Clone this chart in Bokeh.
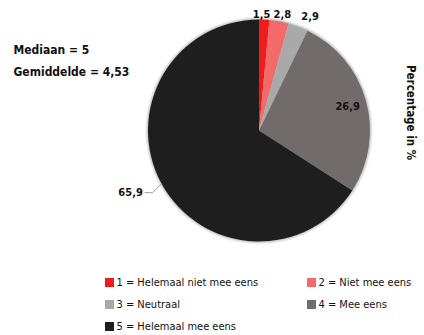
import math
from bokeh.plotting import figure
from bokeh.models import ColumnDataSource
from bokeh.core.properties import value
from bokeh.embed import file_html
from bokeh.resources import INLINE

# ---- data ----
categories = ["1 = Helemaal niet mee eens", "2 = Niet mee eens", "3 = Neutraal",
              "4 = Mee eens", "5 = Helemaal mee eens"]
percentages = [1.5, 2.8, 2.9, 26.9, 65.9]
value_labels = ["1,5", "2,8", "2,9", "26,9", "65,9"]
stats_lines = ["Mediaan = 5", "Gemiddelde = 4,53"]
axis_title = "Percentage in %"

# ---- style ----
colors = ["#ee1c1c", "#f26a6a", "#a9a9a9", "#716b6b", "#1e1e1e"]
label_radius = [117, 118, 122, 92, 111]
FONT = "DejaVu Sans Condensed"

W, H = 424, 335
p = figure(width=W, height=H, output_backend="svg", toolbar_location=None,
           x_range=(0, W), y_range=(0, H), min_border=0)
p.axis.visible = False
p.grid.visible = False
p.outline_line_color = None
p.background_fill_color = "white"

def Y(img_y):
    return H - img_y

def X(img_x):
    return img_x

cx, cy, R = X(258.5), Y(130), 111

# shadow
for dr, a in [(3, 0.10), (2, 0.15), (1, 0.25)]:
    p.circle(x=[cx], y=[cy], radius=R + dr, fill_color="#888888", fill_alpha=a,
             line_color=None)

total = sum(percentages)
starts, ends, mids = [], [], []
cum = 0.0
for v in percentages:
    a0 = math.pi / 2 - 2 * math.pi * cum / total
    cum += v
    a1 = math.pi / 2 - 2 * math.pi * cum / total
    starts.append(a0)
    ends.append(a1)
    mids.append((a0 + a1) / 2)

src = ColumnDataSource(dict(x=[cx] * 5, y=[cy] * 5, s=starts, e=ends, c=colors))
p.wedge(x="x", y="y", radius=R, start_angle="s", end_angle="e", direction="clock",
        fill_color="c", line_color=None, source=src)

# value labels
lx, ly = [], []
for i, m in enumerate(mids):
    lx.append(cx + label_radius[i] * math.cos(m))
    ly.append(cy + label_radius[i] * math.sin(m))
bx, by = lx[4], ly[4]
p.line(x=[bx, bx - 9, bx - 17], y=[by, by - 9, by - 9], line_color="#a0a0a0", line_width=1)
lx[4] = bx - 31
ly[4] = by - 8
lx[0] -= 3
lx[1] += 2
lx[2] += 8
p.text(x=lx, y=ly, text=value_labels, text_font=value(FONT), text_font_size="11px",
       text_font_style="bold", text_align="center", text_baseline="middle", text_color="#111111")

# stats text
p.text(x=[X(13), X(13)], y=[Y(49), Y(71)], text=stats_lines, text_font=value(FONT),
       text_font_size="12px", text_font_style="bold", text_baseline="middle",
       text_color="#111111")

# axis title (rotated)
p.text(x=[X(410)], y=[Y(112)], text=[axis_title], angle=-math.pi / 2,
       text_font=value(FONT), text_font_size="11.5px", text_font_style="bold",
       text_align="center", text_baseline="middle", text_color="#111111")

# legend
leg_sx = [X(109), X(311), X(109), X(311), X(109)]
leg_sy = [Y(282), Y(282), Y(304), Y(304), Y(326)]
p.rect(x=leg_sx, y=leg_sy, width=9, height=9, fill_color=colors, line_color=None)
p.text(x=[x + 7 for x in leg_sx], y=leg_sy, text=categories, text_font=value(FONT),
       text_font_size="11px", text_baseline="middle", text_color="#111111")

open("out.html", "w").write(file_html(p, INLINE))
